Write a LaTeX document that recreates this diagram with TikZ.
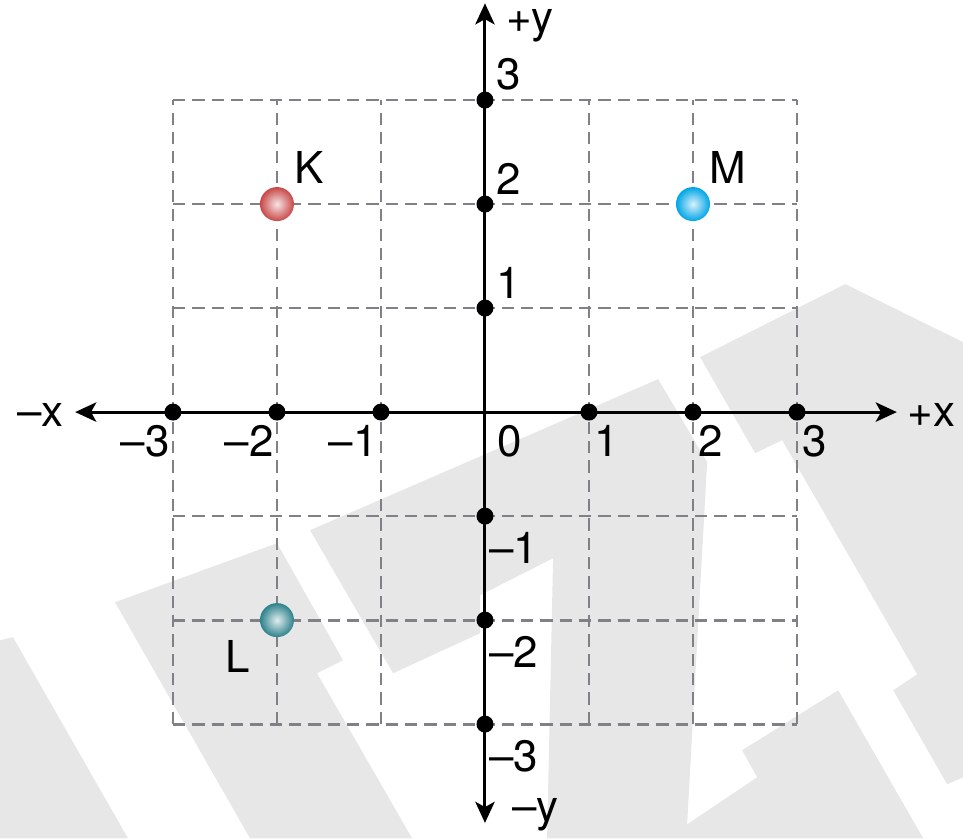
\documentclass[tikz,border=0pt]{standalone}
\usepackage{fontspec}
\setmainfont{TeX Gyre Heros}
\usetikzlibrary{arrows.meta}
\definecolor{wmark}{RGB}{231,231,231}
\definecolor{gridgray}{RGB}{128,128,134}
\definecolor{kred}{RGB}{200,72,72}
\definecolor{mblue}{RGB}{0,165,230}
\definecolor{lteal}{RGB}{45,130,140}
\tikzset{
  gridline/.style={gridgray, line width=1.6pt, dash pattern=on 7pt off 4pt},
  axis/.style={line width=1.7pt, {Stealth[length=12pt,width=11pt,inset=3pt]}-{Stealth[length=12pt,width=11pt,inset=3pt]}},
  dot/.style={circle, fill=black, inner sep=0pt, minimum size=0.34cm},
  lbl/.style={inner sep=0pt, font=\fontsize{25}{30}\selectfont},
  charge/.style={circle, inner sep=0pt, minimum size=0.68cm, inner color=white!85!#1, outer color=#1},
}
\begin{document}
\begin{tikzpicture}[x=2.08cm, y=2.08cm]
    \useasboundingbox (-4.663,-4.096) rectangle (4.596,3.962);
    % watermark in the back
    \begin{scope}[x=0.02cm, y=-0.02cm, shift={(-9.7cm,8.24cm)}]
        \fill[wmark] (0,640) -- (13,637) -- (128,838) -- (0,838) -- cycle;
        \fill[wmark] (115,602) -- (277,543) -- (343,660) -- (317,673) -- (412,838) -- (250,838) -- cycle;
        \fill[wmark] (310,530) -- (658,379) -- (707,462) -- (687,824) -- (757,777) -- (742,750) -- (838,690)
            -- (923,838) -- (547,838) -- (553,558) -- (480,595) -- (480,633) -- (393,673) -- cycle;
        \fill[wmark] (700,357) -- (845,284) -- (963,342) -- (963,777) -- (947,784) -- (893,690) -- (917,674)
            -- (782,440) -- (755,453) -- cycle;
    \end{scope}
    % grid
    \foreach \i in {-3,-2,-1,1,2,3} {
        \draw[gridline] (\i,-3) -- (\i,3);
    }
    \foreach \j in {-3,-2,-1,1,2,3} {
        \draw[gridline] (-3,\j) -- (3,\j);
    }
    % axes
    \coordinate (xneg) at (-3.94,0);
    \coordinate (xpos) at (3.96,0);
    \coordinate (yneg) at (0,-3.95);
    \coordinate (ypos) at (0,3.93);
    \draw[axis] (xneg) -- (xpos);
    \draw[axis] (yneg) -- (ypos);
    \node[lbl, anchor=base east] (lxneg) at (-4.05,-0.14) {--x};
    \node[lbl, anchor=base west] (lxpos) at (4.06,-0.14) {+x};
    \node[lbl, anchor=base west] (lypos) at (0.2,3.65) {+y};
    \node[lbl, anchor=base west] (lyneg) at (0.26,-3.94) {--y};
    % ticks and numbers
    \foreach \i in {-3,-2,-1} {
        \node[dot] (x\i) at (\i,0) {};
        \node[lbl, anchor=north east] (nx\i) at (\i-0.03,-0.12) {--\the\numexpr-\i\relax};
        \node[dot] (y\i) at (0,\i) {};
        \node[lbl, anchor=north west] (ny\i) at (0.04,\i-0.15) {--\the\numexpr-\i\relax};
    }
    \foreach \i in {1,2,3} {
        \node[dot] (x\i) at (\i,0) {};
        \node[lbl, anchor=north west] (nx\i) at (\i+0.05,-0.12) {\i};
        \node[dot] (y\i) at (0,\i) {};
        \node[lbl, anchor=south west] (ny\i) at (0.11,\i+0.09) {\i};
    }
    \node[lbl, anchor=north west] (nzero) at (0.12,-0.12) {0};
    % charges
    \node[charge=kred] (K) at (-2,2) {};
    \node[charge=mblue] (M) at (2,2) {};
    \node[charge=lteal] (L) at (-2,-2) {};
    \node[lbl, anchor=base west] (lK) at (-1.83,2.2) {K};
    \node[lbl, anchor=base west] (lM) at (2.16,2.2) {M};
    \node[lbl, anchor=base west] (lL) at (-2.5,-2.5) {L};
\end{tikzpicture}
\end{document}
